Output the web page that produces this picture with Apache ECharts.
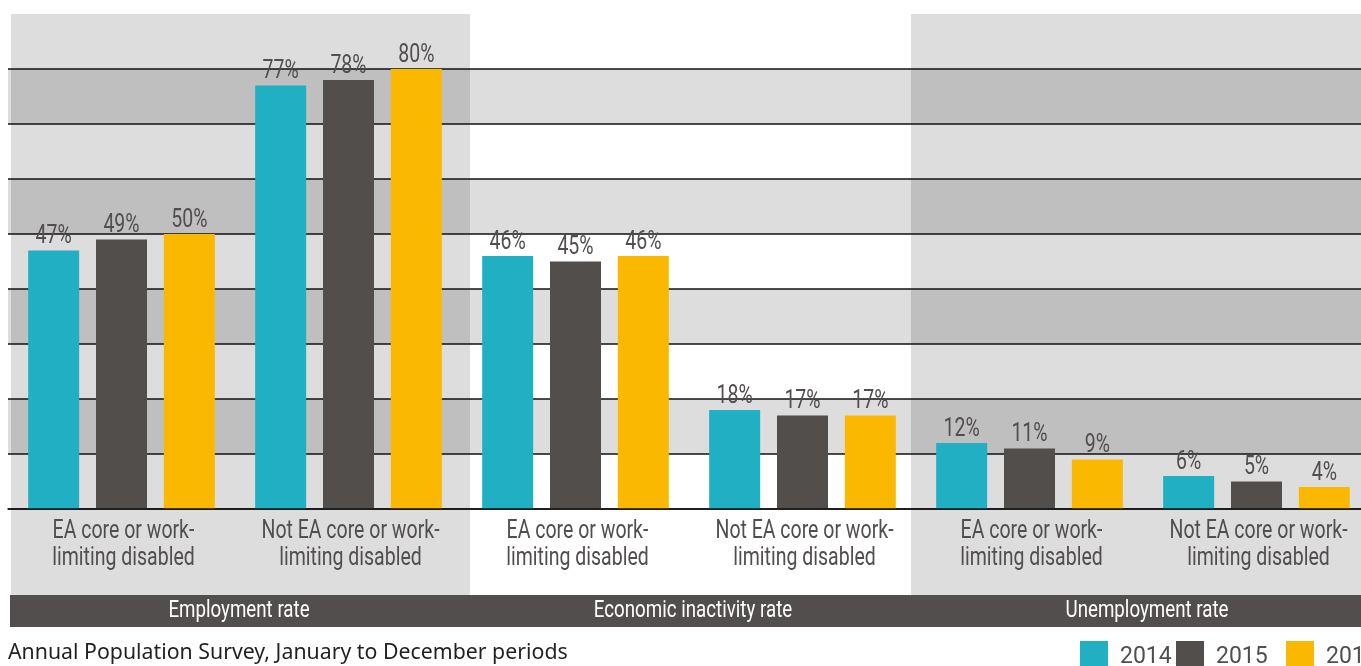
<!DOCTYPE html>
<html>
<head>
<meta charset="utf-8">
<script src="https://cdn.jsdelivr.net/npm/echarts@6/dist/echarts.min.js"></script>
<style>
  html, body { margin: 0; padding: 0; background: #fff; }
  #chart { width: 1361px; height: 666px; }
</style>
</head>
<body>
<div id="chart"></div>
<script>
// Categories along the x axis, two per rate group
const categories = [
  'EA core or work-\nlimiting disabled',
  'Not EA core or work-\nlimiting disabled',
  'EA core or work-\nlimiting disabled',
  'Not EA core or work-\nlimiting disabled',
  'EA core or work-\nlimiting disabled',
  'Not EA core or work-\nlimiting disabled'
];
const groups = ['Employment rate', 'Economic inactivity rate', 'Unemployment rate'];
const years = ['2014', '2015', '2016'];

// Rates in percent, one array per year
const values2014 = [47, 77, 46, 18, 12, 6];
const values2015 = [49, 78, 45, 17, 11, 5];
const values2016 = [50, 80, 46, 17, 9, 4];

const source = 'Annual Population Survey, January to December periods';

const colors = ['#21b0c3', '#524e4c', '#fab900'];
const textGrey = '#524e4d';
const condensedFont = 'Roboto, sans-serif';
const narrow = 0.78;          // horizontal squeeze for the condensed look
const barWidth = 51;
const barGapRatio = 0.33;
const barStep = barWidth * (1 + barGapRatio);

const chart = echarts.init(document.getElementById('chart'), null, { renderer: 'canvas' });

function barSeries(name, data, color) {
  return {
    name: name,
    type: 'bar',
    data: data,
    barWidth: barWidth,
    barGap: (barGapRatio * 100) + '%',
    itemStyle: { color: color },
    z: 3
  };
}

// Value labels above each bar, placed from the same data through the axes
function valueLabels(data, seriesPos) {
  return {
    type: 'custom',
    xAxisIndex: 0,
    yAxisIndex: 0,
    silent: true,
    z: 6,
    data: data.map((v, i) => [i, v]),
    renderItem: function (params, api) {
      const p = api.coord([api.value(0), api.value(1)]);
      return {
        type: 'text',
        x: p[0] + (seriesPos - 1) * barStep,
        y: p[1] - 1,
        scaleX: narrow,
        style: {
          text: api.value(1) + '%',
          fill: textGrey,
          font: '25px ' + condensedFont,
          align: 'center',
          verticalAlign: 'bottom'
        }
      };
    }
  };
}

// Two-line category names under the baseline
const categoryLabels = {
  type: 'custom',
  xAxisIndex: 0,
  yAxisIndex: 0,
  silent: true,
  z: 6,
  data: categories.map((c, i) => [i, 0]),
  renderItem: function (params, api) {
    const p = api.coord([api.value(0), 0]);
    return {
      type: 'text',
      x: p[0] + 2,
      y: p[1] + 9,
      scaleX: narrow,
      style: {
        text: categories[params.dataIndex],
        fill: textGrey,
        font: '25px ' + condensedFont,
        lineHeight: 27,
        align: 'center',
        verticalAlign: 'top'
      }
    };
  }
};

// Rate-group titles in the dark strip
const groupLabels = {
  type: 'custom',
  xAxisIndex: 1,
  yAxisIndex: 0,
  silent: true,
  z: 6,
  data: groups.map((g, i) => [i, 0]),
  renderItem: function (params, api) {
    const p = api.coord([api.value(0), 0]);
    return {
      type: 'text',
      x: p[0] + 4,
      y: p[1] + 102,
      scaleX: narrow,
      style: {
        text: groups[params.dataIndex],
        fill: '#ffffff',
        font: '24px ' + condensedFont,
        align: 'center',
        verticalAlign: 'middle'
      }
    };
  }
};

function legendAt(left, name) {
  return {
    data: [name],
    left: left,
    top: 641,
    padding: 0,
    itemWidth: 28,
    itemHeight: 25,
    icon: 'rect',
    selectedMode: false,
    formatter: '{y|{name}}',
    textStyle: {
      color: textGrey,
      fontFamily: condensedFont,
      fontSize: 23,
      rich: {
        y: { color: textGrey, fontFamily: condensedFont, fontSize: 23, padding: [8, 0, 0, 7] }
      }
    }
  };
}

const option = {
  animation: false,
  backgroundColor: '#ffffff',
  color: colors,
  grid: { left: 8, top: 69, right: -9, height: 440, containLabel: false, outerBoundsMode: 'none' },
  legend: [legendAt(1080, years[0]), legendAt(1176, years[1]), legendAt(1286, years[2])],
  xAxis: [
    {
      type: 'category',
      data: categories,
      axisLine: { show: true, lineStyle: { color: '#111', width: 1.5 } },
      axisTick: { show: false },
      axisLabel: { show: false },
      z: 4
    },
    {
      type: 'category',
      data: groups,
      position: 'bottom',
      axisLine: { show: false },
      axisTick: { show: false },
      axisLabel: { show: false }
    }
  ],
  yAxis: {
    type: 'value',
    min: 0,
    max: 80,
    interval: 10,
    axisLabel: { show: false },
    axisTick: { show: false },
    axisLine: { show: false },
    splitLine: { show: true, lineStyle: { color: '#111', width: 1.5 } },
    splitArea: { show: true, areaStyle: { color: ['rgba(0,0,0,0)', 'rgba(0,0,0,0.135)'] } }
  },
  graphic: [
    // Rate-group background panels and the group title strip
    { type: 'rect', z: -10, shape: { x: 11, y: 14, width: 459, height: 581 }, style: { fill: '#dddddd' } },
    { type: 'rect', z: -10, shape: { x: 911, y: 14, width: 450, height: 581 }, style: { fill: '#dddddd' } },
    { type: 'rect', z: -10, shape: { x: 10, y: 595, width: 1351, height: 32 }, style: { fill: '#524e4d' } },
    {
      type: 'text', z: 5, x: 8, y: 652.5,
      style: { text: source, fill: '#231f20', font: "21.3px 'Noto Sans', sans-serif", verticalAlign: 'middle' }
    }
  ],
  series: [
    barSeries(years[0], values2014, colors[0]),
    barSeries(years[1], values2015, colors[1]),
    barSeries(years[2], values2016, colors[2]),
    valueLabels(values2014, 0),
    valueLabels(values2015, 1),
    valueLabels(values2016, 2),
    categoryLabels,
    groupLabels
  ]
};

chart.setOption(option);
</script>
</body>
</html>
